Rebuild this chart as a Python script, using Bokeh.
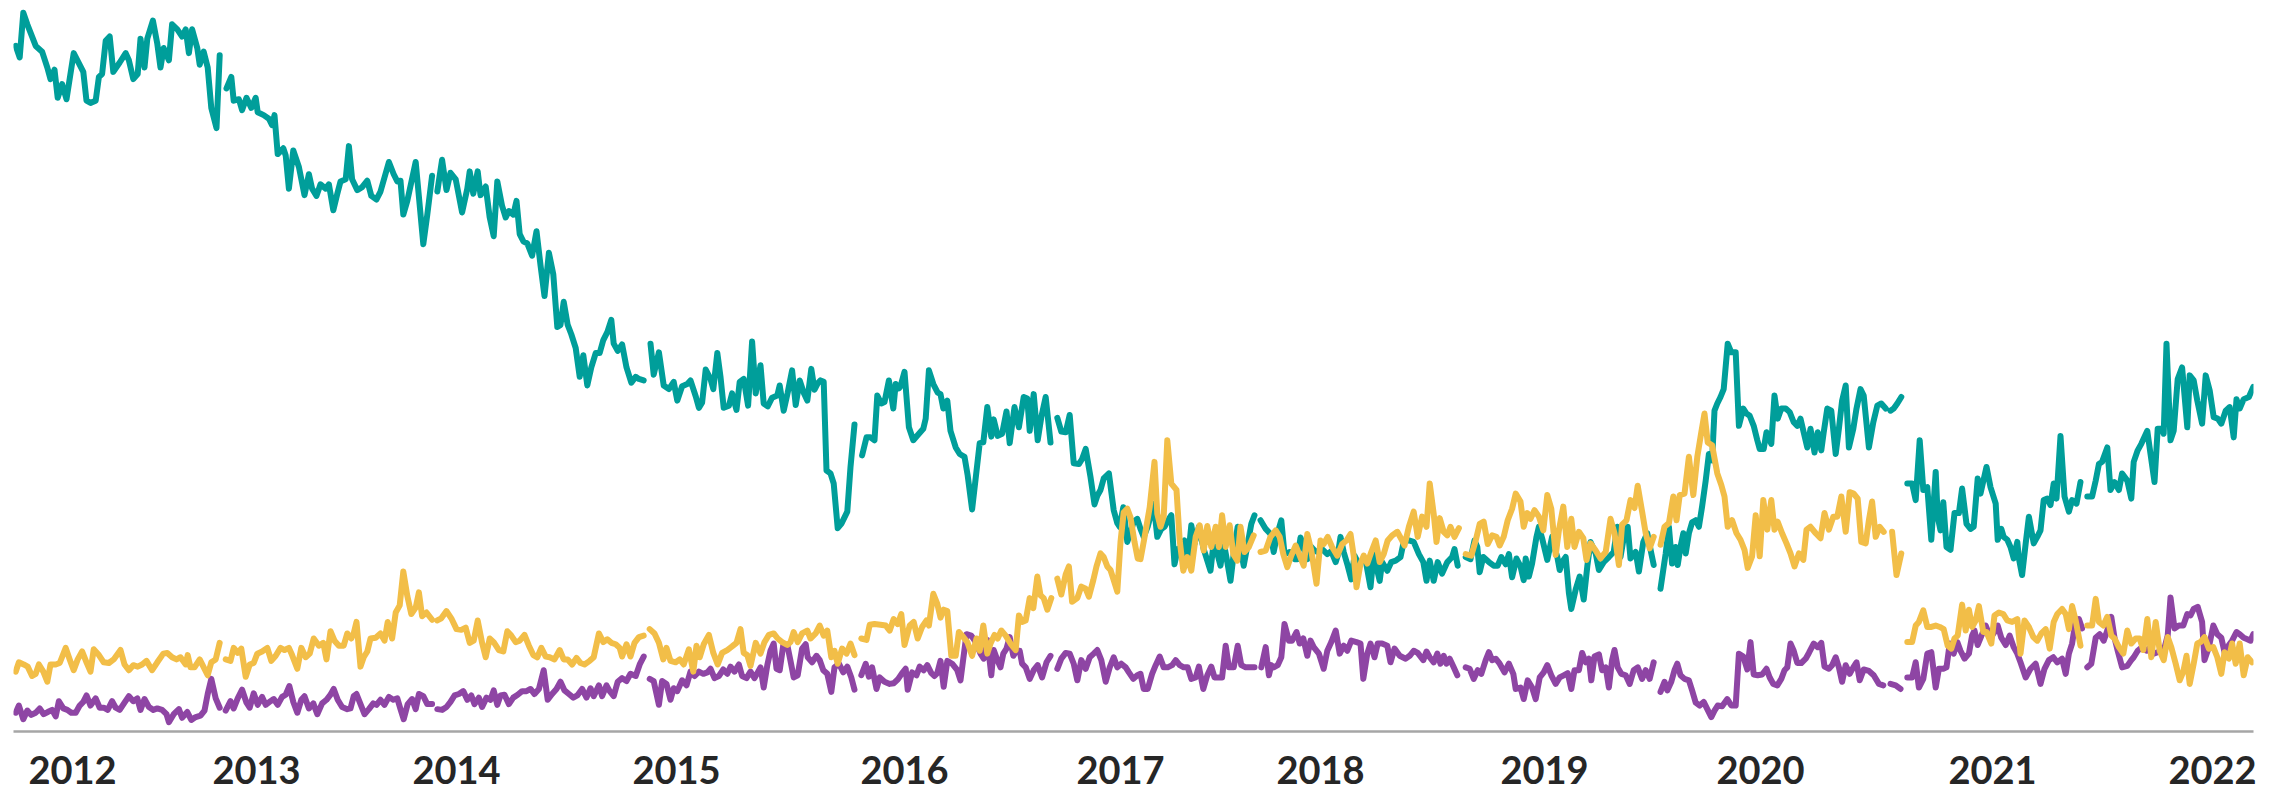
import numpy as np
from bokeh.plotting import figure
from bokeh.models import Range1d, FixedTicker
from bokeh.embed import file_html
from bokeh.resources import INLINE

# x = week index (0 = first week of 2012), y = relative search interest (0-100); None = missing week
year_weeks = [15, 61, 111, 166, 223, 277, 327, 383, 437, 495, 550]
year_labels = ["2012", "2013", "2014", "2015", "2016", "2017", "2018", "2019", "2020", "2021", "2022"]

teal = [
(0.8,95.1),(1.8,93.5),(2.7,99.7),(3.7,98.1),(4.9,96.4),(5.8,95.1),(7.4,94.3),(8.7,92.1),(9.5,90.5),(10.5,91.8),(11.3,87.9),(12.4,89.8),(13.5,87.7),(15.3,94.1),(17.7,91.5),(18.5,87.5),(19.5,87.2),(20.8,87.5),(21.6,90.8),(22.4,91.2),(23.3,95.8),(24.3,96.4),(25.2,91.5),(26.8,92.8),(28.3,94.1),(29.1,93.1),(30.2,90.5),(31.3,91.2),(32,96.1),(33,92.1),(33.7,96.1),(35.1,98.6),(36.2,95.4),(37,92.1),(37.8,94.8),(39.1,93.1),(39.9,98.1),(41.2,97.4),(42.4,96.4),(43.3,97.4),(44.1,94.1),(44.9,97.4),(46.2,94.8),(46.8,92.5),(47.8,94.3),(48.8,92.1),(49.7,86.5),(51,83.7),(51.8,93.8),None,
(53.5,89.2),(54.7,90.8),(55.3,87.5),(56.6,87.7),(57.4,86.2),(58.5,87.9),(59.7,86.5),(60.8,87.9),(61.3,85.9),(62.8,85.5),(64.1,85.0),(64.9,84.1),(65.5,85.5),(66.3,80.1),(67.7,80.9),(68.3,79.9),(69.1,75.3),(70.2,80.6),(71.6,78.3),(73,74.4),(74.1,77.3),(74.9,75.3),(76,74.3),(77,75.9),(78.3,75.3),(79.1,75.9),(80.2,72.3),(81.2,74.6),(82,76.3),(83.3,76.6),(84.1,81.2),(84.9,76.6),(86.2,75.1),(87.4,75.5),(88.7,76.4),(89.7,74.3),(91,73.8),(92,74.9),(94.1,79.0),(95.3,77.3),(96.2,76.3),(97,76.4),(97.7,71.7),(98.7,73.6),(100.8,79.0),(102.7,67.6),(103.7,71.7),(104.9,77.1),None,
(106.2,74.9),(107.4,79.3),(108.5,75.1),(109.5,77.5),(110.8,76.6),(112.4,72.0),(113.7,75.3),(114.3,77.7),(115.2,74.6),(116.3,77.7),(117,74.4),(118.3,75.6),(119.3,71.3),(120.3,68.7),(121.2,76.3),(122.4,72.9),(123.3,71.3),(124.1,72.2),(125.2,71.7),(126,73.6),(126.8,69.0),(127.7,68.0),(128.7,67.7),(129.9,66.0),(131,69.4),(132,64.7),(133,60.4),(134.1,66.4),(135.2,63.4),(136.2,56.1),(137,56.4),(137.8,59.6),(138.8,56.4),(139.7,55.1),(140.8,53.2),(141.8,49.2),(142.7,52.2),(143.7,48.0),(144.7,50.5),(145.8,52.5),(146.8,52.5),(147.7,54.3),(148.7,55.4),(149.7,57.1),(150.3,53.8),(151.3,52.8),(152.4,53.7),(153.5,50.5),(154.7,48.4),(155.8,49.2),(156.6,48.9),(157.8,48.7),None,
(159.5,53.8),(160.3,49.5),(161.6,52.6),(162.8,48.0),(164.1,47.5),(165.3,48.5),(166.2,45.9),(167.4,47.9),(168.7,48.2),(169.5,48.7),(170.8,46.5),(171.6,44.9),(172.4,45.6),(173.3,50.2),(174.5,48.9),(175.2,47.5),(176.2,52.5),(177,49.2),(177.8,44.9),(179.1,45.2),(179.9,46.9),(181,44.6),(181.8,48.5),(182.8,48.9),(183.9,45.2),(184.9,54.1),(185.8,46.9),(187,50.8),(187.8,45.5),(188.8,45.1),(189.9,46.3),(191.2,46.6),(191.8,48.0),(192.8,44.5),(193.8,47.0),(194.9,50.1),(195.8,45.3),(196.8,48.7),(197.8,47.0),(198.7,45.9),(199.7,50.3),(200.5,47.4),(201.3,48.3),(202,48.7),(202.8,48.5),(203.5,36.2),(204.5,35.8),(205.3,34.4),(206.3,28.2),(207.2,28.8),(208.7,30.5),(209.5,36.7),(210.5,42.6),None,
(212.4,38.3),(213.5,40.8),(214.5,40.8),(215.5,40.4),(216.2,46.6),(217.2,45.5),(218,45.7),(219.1,48.7),(220.2,44.8),(220.8,48.2),(221.6,47.6),(222,47.9),(223,49.9),(224.1,42.2),(225.2,40.4),(226.6,41.3),(227.7,42.0),(228.3,43.4),(229.1,50.1),(230.2,48.2),(231.3,47.0),(232,46.8),(232.7,44.8),(233.7,45.9),(234.5,41.7),(235.8,39.4),(236.8,38.5),(238,38.1),(238.8,35.5),(239.9,30.8),(241.2,37.1),(241.8,40.0),(242.7,40.1),(243.7,45.0),(244.7,40.9),(245.3,43.3),(246.3,41.0),(247.4,41.3),(248.5,44.4),(249.3,40.0),(250.5,45.0),(251.6,42.2),(252.8,46.4),(253.7,46.2),(254.3,41.7),(255.3,46.8),(256.3,40.4),(257.2,43.6),(258.3,46.4),(259.5,40.1),None,
(261.2,43.5),(262.2,41.6),(263.3,41.5),(264.3,43.9),(265.3,37.2),(266.6,37.1),(267.4,37.8),(268.3,39.2),(269.5,35.3),(270.5,31.5),(271.2,32.7),(272,33.5),(272.8,35.1),(274.1,35.8),(275.3,30.7),(276.2,28.9),(276.8,28.4),(277.7,31.1),(278.7,26.3),(279.5,27.6),(280.3,29.1),(281.2,29.5),(282,28.1),(282.8,27.0),(283.8,28.4),(285.3,31.6),(286.2,27.0),(287.2,28.1),(288,28.4),(289.1,29.5),(289.7,30.0),(290.5,23.2),(291.3,25.3),(292.2,25.6),(293,26.5),(293.8,23.5),(294.7,28.6),(295.5,26.0),(296.6,28.4),(297.8,25.3),(299.5,22.3),(300.2,25.8),(301,25.1),(302,23.0),(302.8,26.2),(303.7,23.5),(304.5,20.9),(305.5,25.6),(306.3,28.4),(307,25.6),(307.8,23.0),(308.5,25.1),(309.7,28.8),(310.5,30.0),None,
(312,29.3),(313.3,28.1),(314.5,27.4),(315.3,24.9),(316.2,27.4),(317.2,29.3),(318,24.6),(319.3,24.9),(320.5,23.9),(321.2,23.9),(322,26.9),(323,25.3),(323.7,23.9),(324.7,25.6),(325.5,25.1),(326.3,24.9),(327.4,25.3),(328.7,24.6),(329.7,25.0),(330.8,23.5),(331.3,24.4),(332,27.0),(332.8,24.9),(333.8,23.0),(334.7,21.1),(335.5,24.4),(336.6,23.2),(337.4,23.7),(338.3,23.7),(339.5,20.0),(340.3,24.6),(341.2,22.3),(341.8,20.9),(342.4,23.5),(343.7,22.3),(344.7,23.5),(345.8,23.7),(347,24.2),(347.8,26.3),(349.1,26.5),(350.3,26.3),(351.6,24.6),(352.7,23.5),(353.5,20.9),(354.3,23.7),(355.3,20.9),(356.3,23.5),(357.4,21.9),(358.7,23.5),(359.9,24.2),(360.5,25.3),(361.3,23.0),None,
(363.3,24.2),(364.5,23.9),(365.5,26.5),(366.2,25.6),(366.8,22.1),(367.7,24.2),(369.1,23.5),(370.3,23.0),(371.3,23.0),(372.2,24.2),(373.3,23.2),(374.1,24.6),(374.9,21.4),(376,24.0),(377,22.9),(377.8,21.0),(378.3,24.0),(379.1,21.5),(379.9,23.3),(381,27.0),(381.6,28.4),(382.4,26.8),(383.7,23.8),(384.9,27.0),(385.3,25.9),(386.2,24.2),(386.8,22.4),(387.4,23.5),(388.3,24.2),(389.1,19.2),(389.7,17.0),(390.8,19.7),(391.8,21.5),(392.8,18.3),(393.7,22.9),(394.5,26.3),(395.8,24.7),(396.6,22.4),(397.8,23.5),(399.1,24.2),(400.3,24.9),(401.2,28.4),(402,24.2),(403,27.5),(403.8,28.4),(404.5,24.0),(405.8,24.9),(406.6,22.2),(407.7,26.3),(408.7,27.5),(409.7,24.7),(410.3,23.1),None,
(412,19.8),(413.3,24.7),(414.1,28.4),(414.9,23.3),(415.8,25.6),(416.3,23.1),(417,25.6),(417.7,27.5),(418.3,24.7),(419.1,27.5),(419.9,29.0),(420.8,29.3),(421.6,28.4),(422.4,31.2),(423.3,34.8),(424.1,38.5),(424.9,37.6),(425.5,44.5),(426.2,45.5),(427,46.4),(427.8,47.5),(428.8,53.8),(429.7,52.6),(430.8,52.6),(431.6,42.4),(432.7,44.8),(433.5,44.1),(434.3,43.8),(435.3,42.4),(436.2,40.4),(436.8,39.2),(437.8,39.2),(438.5,41.5),(439.7,39.9),(440.5,46.6),(441.3,43.4),(442.2,44.8),(443.3,44.8),(444.3,44.3),(445.3,42.9),(446.2,42.4),(447,43.4),(447.8,41.5),(448.7,39.4),(449.5,42.0),(450.5,38.7),(451.3,41.5),(452.2,39.0),(452.8,41.5),(453.7,44.8),(454.7,44.5),(455.8,38.5),(456.6,42.0),(457.4,45.9),(458.3,48.0),(459.1,39.4),(460.2,42.0),(461,44.8),(462,47.5),(462.8,46.6),(464.1,39.4),(465.2,42.9),(466.2,45.2),(467.2,45.5),(468.3,44.8),None,
(469.5,44.5),(470.3,44.8),(471.2,45.5),(472.2,46.4),None,
(473.7,34.4),(474.9,34.4),(475.8,32.1),(476.8,40.4),(477.7,33.5),(478.7,33.9),(479.7,26.6),(480.8,36.0),(481.3,29.8),(482,27.9),(482.7,31.8),(483.5,25.6),(484.5,25.2),(485.5,30.3),(486.6,30.3),(487.4,33.7),(488.5,28.8),(489.5,28.1),(490.3,28.4),(491.3,35.1),(492,33.0),(493.5,36.7),(494.5,33.9),(495.8,31.6),(496.3,26.6),(497.2,28.1),(497.8,27.0),(498.7,26.6),(499.5,25.6),(500.3,24.0),(501.2,26.3),(501.6,24.0),(502.4,21.7),(503.3,26.1),(504.1,29.8),(505.3,26.1),(506.2,27.0),(507,27.9),(507.8,32.1),(508.7,32.3),(509.5,31.4),(510.3,34.4),(511,32.3),(512,41.0),(513,32.6),(514.1,30.5),(514.9,32.1),(516,31.6),(517,34.6),None,
(518.7,32.6),(519.9,32.6),(520.8,34.8),(521.6,37.1),(522.4,37.4),(523.7,39.4),(524.5,33.5),(525.5,34.6),(526.6,33.5),(527.4,35.8),(528.7,34.8),(529.7,32.3),(530.3,37.4),(531.3,39.0),(532.2,39.9),(533.7,41.7),(534.5,38.5),(535.5,34.6),(536.3,42.0),(537.4,42.0),(537.8,41.3),(538.5,53.8),(539.5,40.4),(540.3,41.7),(541.3,48.9),(542.4,50.5),(543.7,42.2),(544.3,49.4),(545.3,48.7),(546.2,45.9),(547.4,42.7),(548.3,49.4),(549.3,47.3),(550.3,43.6),(551.3,43.4),(552.2,42.7),(553.3,44.5),(554.3,45.0),(555.3,40.8),(556,46.1),(556.8,44.8),(557.8,46.1),(559.1,46.4),(560.2,47.8)]

yellow = [
(0.8,8.3),(1.6,9.6),(2.8,9.3),(3.8,9.0),(4.9,7.7),(5.8,8.0),(6.6,9.3),(7.7,8.3),(8.7,6.9),(9.5,9.3),(10.8,9.3),(11.8,9.5),(13.3,11.6),(14.3,10.0),(15.3,8.5),(16.3,10.0),(17.4,11.1),(18.5,9.6),(19.5,8.3),(20.3,11.4),(21.6,10.6),(22.8,9.6),(24.1,9.5),(25.3,10.0),(27,11.3),(28,9.3),(29.1,8.5),(30.2,9.2),(31.3,9.0),(32.4,9.3),(33.5,9.8),(34.9,8.5),(36.2,9.6),(37.7,10.8),(38.7,10.9),(39.9,10.3),(41,10.0),(42,10.3),(43.3,9.3),(43.8,10.6),(44.5,8.9),(45.5,8.9),(46.8,10.0),(48,8.7),(48.8,7.8),(49.7,9.6),(50.8,10.0),(51.8,12.3),None,
(53.3,10.0),(54.5,9.8),(55.3,11.6),(56.3,10.9),(57.2,11.5),(58.3,7.6),(59.3,9.3),(60.3,9.5),(61.2,10.8),(62.4,11.1),(63.7,11.6),(64.7,9.8),(65.8,10.5),(67,11.6),(68,11.3),(69.1,11.6),(69.9,10.6),(71.2,8.7),(72.2,11.6),(73.3,10.3),(74.3,10.8),(75.3,12.9),(76.6,11.9),(77.7,12.3),(78.5,10.0),(79.5,13.9),(80.5,12.6),(81.6,11.9),(82.8,11.9),(83.7,13.6),(84.7,12.9),(85.3,13.6),(86,15.2),(87,9.0),(87.8,10.3),(88.7,11.1),(89.5,12.9),(90.8,13.0),(92,13.6),(93,12.6),(93.8,15.2),(94.9,12.9),(95.8,16.5),(96.8,17.5),(97.7,22.2),(98.7,18.8),(99.7,16.3),(100.8,17.2),(101.6,19.3),(102.4,16.0),(103.5,16.5),(104.9,15.5),None,
(106.2,15.4),(107.2,15.7),(108.5,16.7),(109.7,15.7),(111,14.2),(112.2,14.1),(113.3,14.4),(114.3,12.3),(115.3,12.6),(116.3,15.4),(117.4,12.3),(118.3,10.3),(119.3,12.9),(120.3,12.4),(121.6,11.3),(122.7,11.1),(123.7,13.9),(124.7,13.3),(125.8,12.4),(126.8,12.6),(128,13.4),(129.1,11.9),(130.2,10.6),(131.2,10.3),(132.2,11.6),(133.3,10.4),(134.3,10.3),(135.5,10.0),(136.8,11.3),(137.8,10.0),(138.8,10.0),(139.9,9.3),(141,10.2),(142,9.5),(143,9.3),(144.3,9.8),(145.3,10.3),(146.6,13.6),(147.7,12.4),(148.7,12.8),(149.7,12.3),(150.8,12.1),(151.8,11.6),(152.4,10.4),(153.5,12.1),(154.5,10.4),(155.5,12.3),(156.6,13.1),(157.8,13.3),None,
(159.3,14.2),(160.5,13.6),(161.6,12.3),(162.7,10.0),(163.5,11.6),(164.5,9.8),(165.8,9.6),(166.8,10.0),(167.8,9.3),(169.1,11.4),(170.2,8.3),(171,11.9),(171.8,10.3),(172.8,12.1),(174.1,13.4),(175.2,10.9),(176.3,9.3),(177.4,10.9),(178.7,11.3),(179.9,11.8),(181,12.3),(182,14.2),(182.8,10.9),(183.7,10.6),(184.5,9.1),(185.8,12.3),(187,10.8),(188,12.4),(189.1,13.4),(190.3,13.6),(191.3,12.9),(192.4,12.4),(193.7,12.0),(194.5,12.4),(195.3,13.8),(196.3,12.4),(197.4,13.6),(198.7,14.0),(199.5,12.9),(200.8,13.6),(201.8,14.7),(202.8,13.3),(203.7,14.0),(204.7,10.3),(205.5,11.2),(206.3,9.4),(207.4,11.5),(208.5,10.8),(209.5,12.2),(210.5,10.6),None,
(212.2,12.9),(213.5,12.7),(214.3,14.8),(215.5,14.9),(217,14.8),(218.3,14.7),(219.3,14.0),(220.3,15.6),(221.3,14.9),(222.2,16.3),(223,12.0),(224.3,14.7),(225.3,15.2),(226.3,12.9),(227.4,14.5),(228.5,15.4),(229.1,14.7),(230.2,19.1),(231.2,17.7),(232,15.8),(232.8,16.9),(233.7,16.7),(234.7,10.5),(235.8,10.5),(236.6,13.8),(237.7,13.1),(238.7,12.4),(239.9,10.5),(241,12.9),(241.8,11.2),(242.7,14.7),(243.7,10.8),(244.5,12.2),(245.5,13.4),(246.3,12.9),(247.2,14.0),(248.3,13.3),(249.5,12.2),(250.8,11.3),(251.6,16.1),(252.4,15.2),(253.3,15.4),(254.3,18.5),(255.2,17.1),(256.2,21.5),(257,18.9),(257.8,18.5),(258.7,16.9),(259.7,18.5),None,
(261.2,21.2),(262.2,19.0),(263.3,21.8),(264.1,22.9),(264.9,18.0),(266.2,18.5),(267.2,20.1),(268.3,19.8),(269.1,18.7),(270.2,21.0),(271,22.9),(272,24.7),(272.8,24.2),(273.7,22.9),(274.5,22.4),(275.3,21.0),(276.2,19.4),(277,26.3),(277.8,30.4),(278.7,30.9),(279.5,29.7),(280.5,26.3),(281.3,24.0),(282,23.9),(283,26.9),(284.3,31.1),(285.5,37.4),(286.2,30.2),(287,28.4),(287.8,29.8),(288.7,40.4),(289.7,34.4),(291,33.5),(291.8,26.5),(292.7,22.3),(293.7,24.2),(294.7,22.3),(295.8,27.0),(296.8,28.6),(297.8,25.1),(298.7,28.5),(299.7,25.6),(300.8,28.4),(301.6,25.6),(302.4,30.0),(303.3,25.6),(304.3,28.6),(305.2,24.6),(306.2,23.7),(307,28.4),(308,24.9),(309.1,25.6),(310.3,27.2),None,
(312,24.9),(313.3,25.1),(314.5,27.0),(315.8,27.9),(316.8,27.0),(317.7,24.6),(318.7,22.8),(319.7,24.4),(320.8,25.8),(321.8,24.4),(322.8,23.0),(323.7,27.4),(324.7,25.1),(326,20.5),(327,26.5),(327.8,26.0),(328.8,27.0),(329.9,25.6),(331.2,24.4),(332.4,26.0),(333.5,26.5),(334.5,27.4),(335.3,24.4),(336,20.0),(337,23.3),(337.8,24.4),(338.7,23.3),(339.7,24.9),(340.8,26.5),(341.8,23.5),(342.8,24.6),(343.8,26.5),(344.9,27.2),(346.2,27.7),(347.2,26.7),(348,25.8),(349.1,28.4),(350.3,30.5),(351.3,27.0),(352.4,29.8),(353.5,28.4),(354.3,34.4),(355.3,30.2),(356,26.3),(356.8,29.6),(357.8,27.7),(358.7,27.2),(359.5,28.4),(360.5,27.0),(361.6,28.2),None,
(363.3,24.6),(364.7,24.4),(365.8,26.5),(366.8,28.8),(367.8,29.1),(368.8,26.0),(369.9,27.2),(371,27.0),(371.8,25.8),(372.8,27.0),(373.8,29.3),(374.9,30.9),(375.8,33.0),(377,31.9),(377.8,28.4),(378.7,30.3),(379.5,29.5),(380.5,30.7),(381.6,29.8),(382.7,27.9),(383.7,32.8),(384.7,30.9),(385.8,24.5),(386.6,27.9),(387.7,31.2),(388.7,25.6),(389.7,29.5),(390.5,25.6),(391.6,27.7),(392.7,26.8),(393.5,23.8),(394.5,26.1),(395.8,25.1),(397,24.0),(398.3,24.9),(399.5,29.5),(400.5,27.5),(401.6,23.1),(402.4,28.7),(403.5,29.3),(404.5,32.1),(405.5,31.0),(406.3,34.1),(407.4,30.5),(408.3,27.5),(409.3,25.4),(410.3,27.0),None,
(412,25.9),(413,28.4),(414.1,28.9),(415.2,32.6),(416,29.3),(416.8,32.8),(418,33.0),(419.1,38.1),(420.2,32.8),(421.2,38.1),(422.2,41.5),(423,44.1),(423.8,40.1),(424.9,39.7),(426.2,35.8),(427.2,34.2),(428,32.6),(428.8,28.4),(429.9,29.3),(431,27.5),(432,26.6),(433,25.2),(433.8,22.7),(434.9,24.3),(435.8,30.0),(436.8,24.3),(437.7,32.1),(438.7,28.0),(439.7,32.1),(440.5,28.0),(441.3,29.1),(442.4,27.5),(443.5,26.1),(444.5,24.7),(445.5,22.9),(446.6,24.7),(447.7,23.8),(448.5,28.0),(449.5,28.4),(450.8,27.5),(452,26.8),(453,30.3),(454.1,28.0),(455.2,29.8),(456.2,29.8),(457.2,32.6),(458.3,27.7),(459.3,33.2),(460.3,33.0),(461.3,32.3),(462.2,26.3),(463.3,26.1),(464.1,29.3),(464.9,31.9),(465.8,27.0),(466.8,28.4),(467.8,27.7),None,
(469.9,27.7),(471,21.7),(472.2,24.7),None,
(473.7,12.4),(474.9,12.4),(475.8,14.7),(476.6,15.2),(477.7,16.8),(478.7,14.5),(479.7,14.5),(480.8,14.7),(481.8,14.5),(482.8,14.2),(483.8,11.9),(484.7,11.5),(485.5,12.9),(486.3,13.3),(487.4,17.6),(488.3,14.0),(489.1,16.9),(489.9,14.5),(490.8,15.4),(491.6,17.4),(492.7,13.8),(493.5,13.8),(494.7,12.2),(495.5,16.1),(496.6,16.5),(497.7,16.3),(498.7,15.4),(499.9,15.2),(501.2,15.6),(502,10.8),(503,15.4),(504.1,14.5),(505.2,13.1),(506.2,12.6),(507.2,13.6),(508.3,14.2),(509.3,11.5),(510.3,15.2),(511.2,16.3),(512.4,17.0),(513.3,16.3),(514.1,14.2),(514.9,17.4),(515.8,15.4),(517,11.9),None,
(518.7,14.7),(519.9,14.7),(520.8,18.4),(521.6,15.2),(522.7,14.7),(523.7,15.9),(524.7,13.3),(525.5,12.9),(526.6,11.7),(527.7,10.8),(528.7,14.0),(529.7,12.2),(530.8,12.9),(531.8,12.9),(532.7,11.3),(533.7,15.6),(534.7,10.3),(535.8,15.2),(536.8,11.2),(537.8,9.9),(538.8,13.1),(539.7,11.7),(540.8,9.4),(541.8,7.1),(542.7,8.3),(543.5,10.5),(544.3,6.6),(545.3,9.4),(546.2,12.2),(547,12.4),(548,13.1),(549.1,11.5),(550.2,11.7),(551.2,10.3),(552.2,8.0),(553,11.0),(554.1,10.1),(554.9,12.2),(555.8,9.4),(556.8,12.2),(557.8,7.8),(558.8,10.3),(559.9,9.6)]

purple = [
(0.8,2.6),(1.6,3.6),(2.7,1.7),(3.7,2.9),(4.7,2.3),(5.8,2.6),(6.8,3.2),(7.8,2.4),(8.8,2.7),(9.9,3.0),(10.8,2.1),(11.6,4.2),(12.7,3.2),(13.7,3.0),(14.7,2.6),(15.8,2.6),(16.8,3.6),(17.7,4.1),(18.5,5.0),(19.5,3.6),(20.8,4.6),(21.8,3.3),(22.8,3.3),(23.8,3.0),(24.9,4.2),(25.8,3.3),(26.8,3.0),(28,4.0),(29.1,4.9),(30.2,4.2),(31.2,4.6),(32,3.0),(33,4.5),(34.1,3.4),(35.2,3.0),(36.2,3.2),(37.4,3.0),(38.5,2.4),(39.1,1.3),(40.3,2.4),(41.6,3.1),(42.4,1.9),(43.7,2.7),(44.7,1.6),(45.8,2.0),(47,2.2),(48,2.9),(48.8,5.2),(49.7,7.3),(50.8,4.6),(51.8,3.3),None,
(53.3,2.9),(54.5,4.2),(55.3,3.2),(56.3,4.6),(57.4,5.8),(58.5,4.0),(59.3,3.3),(60.3,5.3),(61.3,3.7),(62.4,4.8),(63.3,3.7),(64.5,4.2),(65.3,4.5),(66.3,3.7),(67.4,4.8),(68.3,5.1),(69.2,6.3),(70.2,4.1),(71.2,2.6),(72.2,4.4),(73,4.9),(74.1,3.2),(75.2,3.9),(76.2,2.4),(77.4,3.9),(78.5,4.4),(79.5,5.1),(80.3,5.9),(81.3,4.4),(82.4,3.4),(83.7,3.1),(84.5,3.2),(85.3,4.9),(86,5.2),(87,3.8),(88,2.4),(89.1,3.1),(90.2,3.9),(91,3.7),(92,4.4),(93,3.7),(94.1,4.8),(95.2,4.4),(96.2,4.6),(97,3.1),(97.8,1.7),(98.8,3.8),(99.9,4.5),(100.8,3.1),(101.6,5.2),(102.7,4.9),(103.7,3.8),(104.9,3.8),None,
(106.2,3.1),(107.4,3.0),(108.5,3.4),(109.5,4.1),(110.5,5.0),(111.6,5.2),(112.7,5.6),(113.7,4.4),(114.7,5.0),(115.5,3.8),(116.6,4.7),(117.4,3.4),(118.5,4.7),(119.5,4.4),(120.3,5.7),(121.2,3.7),(122,5.0),(123,5.1),(124.1,3.8),(125.2,4.7),(126.3,5.1),(127.4,5.6),(128.5,5.6),(129.5,5.9),(130.5,5.2),(131.6,5.9),(132.8,8.5),(133.8,4.4),(134.9,5.2),(136,5.9),(137,6.9),(138,5.7),(139.1,5.2),(140.2,4.7),(141.2,5.0),(142.4,5.9),(143.5,4.7),(144.5,6.0),(145.3,4.9),(146.6,6.4),(147.4,4.9),(148.5,6.4),(149.3,5.6),(150.3,4.9),(151.3,6.9),(152.4,7.4),(153.5,7.0),(154.5,8.0),(155.8,7.7),(156.8,9.3),(157.8,10.4),None,
(159.3,7.3),(160.3,7.0),(161.6,3.7),(162.4,7.0),(163.5,6.6),(164.5,4.4),(165.3,6.0),(166.2,5.6),(167.4,7.1),(168.5,6.4),(169.5,8.3),(170.5,7.7),(171.6,8.3),(172.7,8.0),(173.7,8.2),(174.5,8.7),(175.5,7.4),(176.6,7.7),(177.7,8.6),(178.7,8.0),(179.5,9.0),(180.5,8.3),(181.6,9.3),(182.4,7.7),(183.5,7.4),(184.5,8.3),(185.5,7.4),(187,8.9),(187.8,6.1),(188.7,9.2),(189.5,11.2),(190.3,12.2),(191,8.7),(191.8,8.5),(192.7,12.0),(193.7,12.0),(194.5,9.8),(195.3,7.5),(196.3,7.8),(197.4,11.5),(198.3,12.1),(198.8,10.3),(199.9,9.6),(201,10.5),(201.8,9.9),(202.7,8.5),(203.7,8.0),(204.7,5.5),(205.5,8.9),(206.6,9.4),(207.7,8.2),(208.7,9.0),(209.7,7.5),(210.5,5.8),None,
(212.2,7.8),(213.3,9.4),(214.1,7.6),(214.9,8.9),(216,5.9),(216.8,7.5),(218,6.9),(219.3,6.6),(220.3,6.7),(221.3,7.2),(222.4,8.1),(223.3,8.7),(223.8,5.8),(224.9,8.2),(226,7.8),(226.8,9.0),(227.8,8.5),(228.7,9.2),(229.7,8.1),(230.5,7.7),(231.2,8.1),(232,9.8),(232.8,6.2),(233.7,9.8),(234.9,9.4),(236.2,8.5),(237,7.1),(237.7,10.1),(238.5,13.5),(239.7,13.3),(240.8,12.4),(242,10.8),(242.8,10.1),(243.7,12.7),(244.7,7.8),(245.3,11.3),(246.2,9.9),(247,8.9),(247.7,10.8),(248.5,11.5),(249.3,13.1),(250.2,10.5),(251,11.2),(251.8,11.2),(252.4,9.4),(253.3,8.9),(254.3,7.3),(255.3,8.5),(256.3,9.2),(257.4,7.5),(258.5,9.6),(259.5,10.5),None,
(261.2,8.7),(262.2,10.1),(263.3,10.9),(264.3,10.8),(265.3,9.4),(266.2,7.1),(267.2,9.9),(268.3,8.7),(269.3,10.3),(270.3,10.8),(271.2,11.3),(272.2,9.9),(273.3,6.9),(274.3,8.9),(275.3,10.3),(276.2,8.9),(277.2,9.4),(278.3,8.9),(279.1,8.2),(280.2,7.3),(281.2,7.8),(282,8.0),(282.8,5.9),(283.8,5.9),(284.9,8.0),(285.8,9.2),(286.8,10.4),(287.8,8.9),(288.8,8.9),(289.9,9.2),(290.8,9.9),(291.8,9.2),(292.8,8.9),(293.8,8.9),(294.7,7.3),(295.8,7.5),(296.6,9.0),(297.7,5.9),(298.7,7.8),(299.7,9.0),(300.5,7.5),(301.6,7.5),(302.4,7.5),(303.3,11.9),(304.1,8.9),(305.3,8.9),(306.3,11.9),(307.2,9.2),(308.3,8.9),(309.5,8.9),(310.5,8.9),None,
(312.2,8.9),(313.3,11.7),(314.1,7.8),(314.7,9.2),(315.3,8.9),(316.3,9.2),(317.2,10.3),(318,14.9),(319.1,12.6),(319.9,12.6),(321,13.8),(321.8,12.2),(322.7,12.9),(323.7,10.5),(324.5,12.6),(325.3,11.7),(326.6,10.8),(327.8,8.7),(328.7,11.2),(329.7,12.4),(330.8,14.0),(331.8,10.8),(332.8,11.9),(333.7,11.2),(334.7,12.6),(336,12.4),(337,12.2),(337.7,7.3),(338.7,10.8),(339.5,12.2),(340.5,10.3),(341.3,12.2),(342.4,12.2),(343.7,11.9),(344.5,9.6),(345.5,11.5),(346.8,10.5),(348.3,10.1),(349.3,10.5),(350.3,11.2),(351.3,10.9),(352.7,9.9),(353.5,11.1),(354.3,10.3),(355.3,9.6),(356.2,10.8),(357,9.4),(357.8,10.5),(358.5,9.4),(359.3,10.1),(360.3,8.9),(361.2,7.8),None,
(363.3,8.9),(364.3,8.7),(365.3,7.3),(366.3,8.5),(367.2,8.0),(368.3,9.9),(369.1,11.0),(369.9,9.9),(370.8,10.1),(371.8,9.4),(373,8.2),(374.1,9.4),(375.2,8.0),(375.8,5.9),(377,6.1),(377.8,4.5),(378.8,7.1),(379.9,6.1),(380.8,4.5),(381.8,7.5),(382.8,8.2),(383.7,9.2),(384.7,7.8),(385.8,6.6),(386.8,7.5),(387.8,7.8),(388.8,8.1),(389.7,5.9),(390.5,8.5),(391.6,8.5),(392.4,10.9),(393.3,9.6),(394.1,10.1),(394.7,7.1),(395.5,10.4),(396.6,10.7),(397.4,8.5),(398.3,8.9),(399.1,6.1),(399.9,9.9),(400.5,11.3),(401.3,8.9),(402.2,8.0),(403.3,7.8),(404.3,6.6),(405.3,8.5),(406.3,8.9),(407.4,7.3),(408.3,8.5),(409.3,7.3),(410.3,9.6),None,
(412,5.5),(413,6.9),(413.7,5.7),(414.7,6.9),(415.5,8.5),(416.2,9.4),(417,7.8),(418,7.3),(419.1,7.1),(419.9,5.7),(420.8,4.0),(421.8,3.6),(422.8,4.1),(423.7,3.1),(424.7,2.0),(425.5,2.9),(426.3,3.6),(427.4,3.5),(428.7,4.5),(429.7,3.6),(430.8,3.6),(431.6,10.8),(432.7,10.4),(433.7,8.6),(434.5,12.4),(435.3,7.9),(436.3,7.8),(437.4,7.9),(438.5,8.7),(439.3,7.5),(440.2,6.6),(441.2,6.4),(442.2,7.3),(443,8.5),(443.7,8.9),(444.5,12.2),(445.3,11.2),(446.2,9.5),(447.2,9.5),(448.3,10.1),(449.1,10.9),(450.3,12.2),(451.3,11.7),(452.2,12.3),(453,9.0),(454.1,8.7),(454.9,9.2),(455.8,10.3),(456.6,8.9),(457.4,6.9),(458.3,9.2),(459.3,8.0),(460.2,8.9),(461,9.6),(461.8,7.1),(462.8,8.6),(464.1,8.4),(465.3,7.8),(466.6,6.6),(467.7,6.4),None,
(469.5,6.6),(470.8,6.4),(472,5.9),None,
(473.7,7.5),(474.9,7.5),(475.8,9.6),(476.6,6.1),(477.7,7.3),(478.7,10.8),(479.7,11.0),(480.8,6.1),(481.6,8.7),(482.7,8.7),(483.5,8.9),(484.3,12.2),(485.3,10.8),(486.2,12.4),(487,11.2),(488,10.1),(489.1,10.8),(489.9,13.3),(490.5,14.0),(491.3,12.0),(492.4,13.5),(493.3,14.7),(494.5,13.0),(495.5,13.8),(496.3,14.7),(497.2,13.0),(498.3,12.0),(499.3,13.3),(500.3,11.7),(501.2,10.8),(502,9.6),(503.3,7.5),(504.5,8.7),(505.8,9.4),(507,6.6),(508,8.7),(509.1,9.9),(510.2,10.3),(511.2,9.6),(512.4,10.1),(513.3,8.0),(514.1,10.8),(514.9,12.2),(515.8,15.4),(516.6,15.6),(517.4,14.3),None,
(518.7,8.9),(519.7,9.4),(520.8,13.0),(521.8,13.5),(522.8,12.6),(523.7,14.0),(524.7,15.9),(525.5,13.0),(526.3,11.2),(527.4,8.9),(528.7,9.1),(529.7,9.9),(530.3,10.3),(531.3,11.2),(532.4,11.7),(533.5,11.2),(534.5,11.7),(535.3,10.8),(536.3,11.0),(537.8,11.2),(538.8,13.3),(539.5,18.6),(540.5,14.3),(541.6,14.7),(542.7,14.7),(543.7,16.3),(544.5,16.1),(545.3,17.0),(546.3,17.3),(547.4,15.2),(548,9.9),(549.1,11.7),(550.2,14.7),(551.2,13.5),(552.2,13.0),(553.3,10.3),(554.1,12.0),(554.9,12.6),(556,13.8),(556.8,13.5),(557.8,13.0),(558.7,12.8),(559.5,12.6),(560.2,13.5)]

TEAL = "#009E9A"
YELLOW = "#F2BE48"
PURPLE = "#8E45A4"


def split(series):
    xs = np.array([np.nan if pt is None else pt[0] for pt in series], dtype=float)
    ys = np.array([np.nan if pt is None else pt[1] for pt in series], dtype=float)
    return xs, ys


p = figure(width=2258, height=794, output_backend="svg", toolbar_location=None,
           x_range=Range1d(0.25, 560.25), y_range=Range1d(0, 101.4),
           y_axis_location=None,
           min_border_left=13, min_border_right=5, min_border_top=0, min_border_bottom=63)
p.outline_line_color = None
p.xgrid.visible = False
p.ygrid.visible = False
p.background_fill_color = "white"
p.border_fill_color = "white"

for series, color in [(teal, TEAL), (purple, PURPLE), (yellow, YELLOW)]:
    xs, ys = split(series)
    p.line(xs, ys, line_color=color, line_width=6, line_join="round", line_cap="round")

ax = p.xaxis[0]
ax.ticker = FixedTicker(ticks=year_weeks)
ax.major_label_overrides = {w: lab for w, lab in zip(year_weeks, year_labels)}
ax.axis_line_color = "#A6A6A6"
ax.axis_line_width = 2.5
ax.major_tick_line_color = None
ax.minor_tick_line_color = None
ax.major_tick_out = 0
ax.major_tick_in = 0
ax.major_label_standoff = 24
ax.major_label_text_font = "Lato"
ax.major_label_text_font_style = "bold"
ax.major_label_text_font_size = "38px"
ax.major_label_text_color = "#262626"

open("out.html", "w").write(file_html(p, INLINE))
